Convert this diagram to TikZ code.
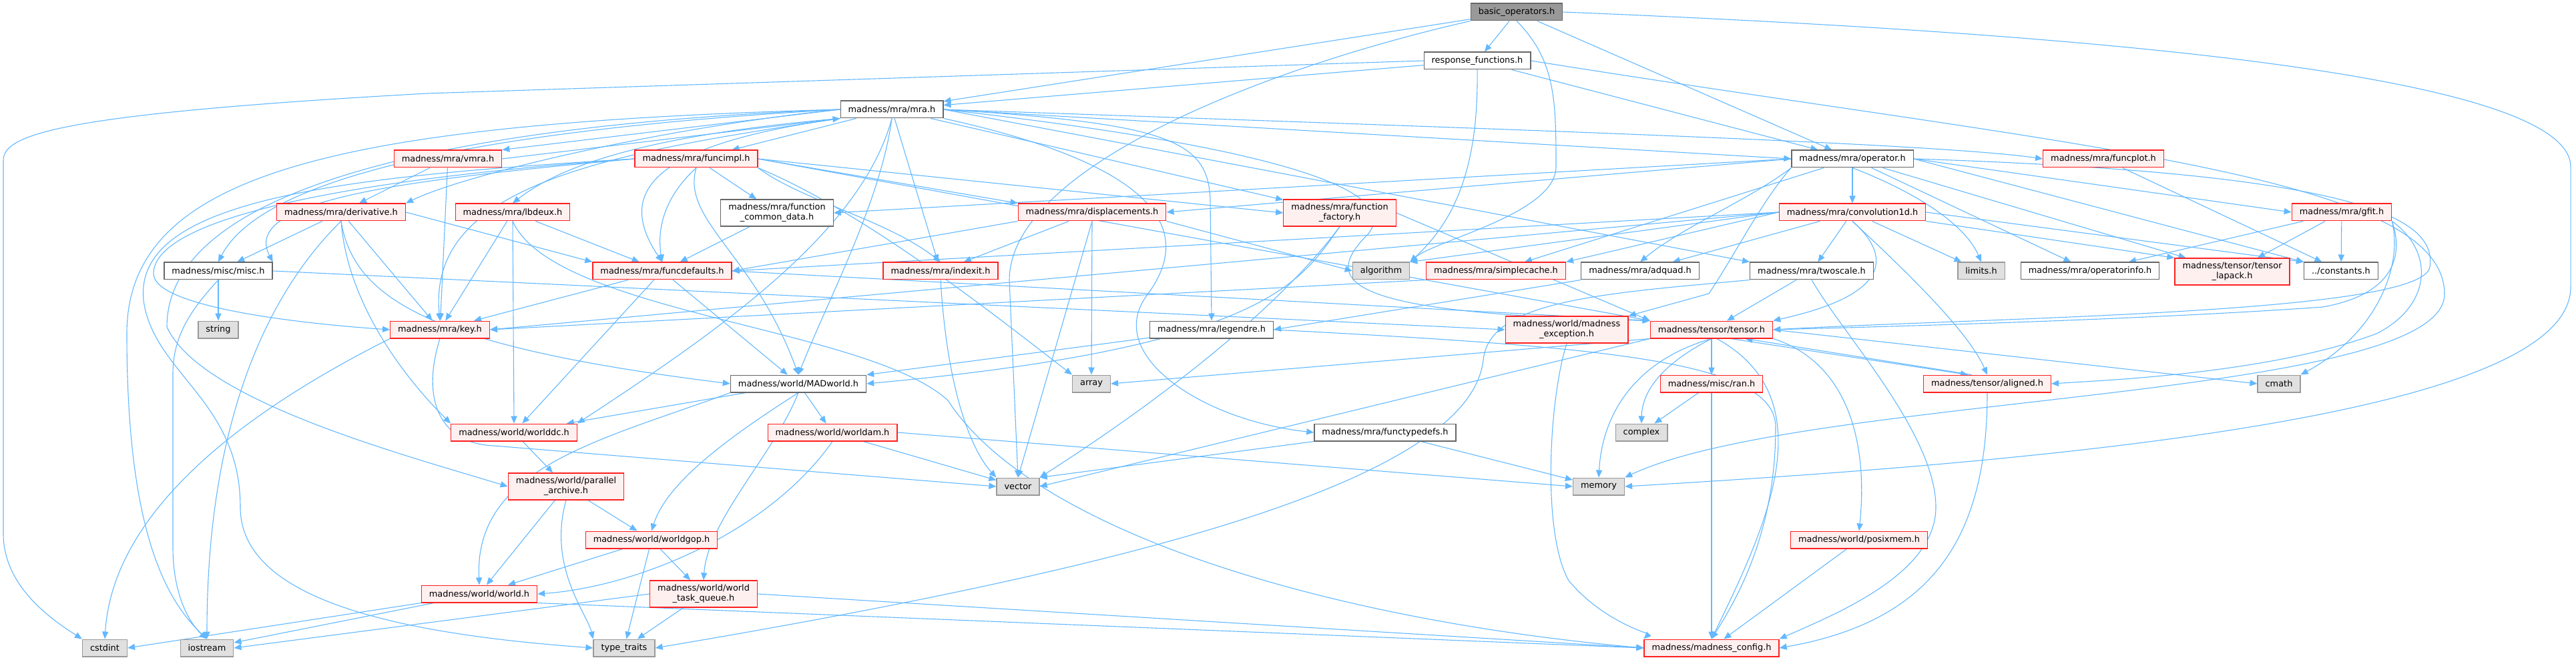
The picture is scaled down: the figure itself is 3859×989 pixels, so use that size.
\documentclass[tikz,border=0pt]{standalone}
\usepackage{fontspec}
\newfontfamily\dvs{DejaVu Sans}
\usetikzlibrary{arrows.meta}
\definecolor{edgec}{HTML}{63B8FF}
\definecolor{redb}{HTML}{FF2020}
\definecolor{redf}{HTML}{FFF0F0}
\definecolor{grayb}{HTML}{999999}
\definecolor{grayf}{HTML}{E0E0E0}
\definecolor{wb}{HTML}{666666}
\definecolor{rootf}{HTML}{999999}
\pgfdeclarelayer{bg}
\pgfsetlayers{bg,main}
\tikzset{
 nbase/.style={draw, line width=0.65pt, font=\dvs\fontsize{6.45}{7.5}\selectfont, inner xsep=5.75pt, inner ysep=1pt, minimum height=12.85pt, align=center, text=black},
 rn/.style={nbase, draw=redb, fill=redf},
 wn/.style={nbase, draw=wb, fill=white},
 gn/.style={nbase, draw=grayb, fill=grayf},
 rootn/.style={nbase, draw=wb, fill=rootf},
 two/.style={minimum height=20pt},
 ed/.style={draw=edgec, line width=0.55pt, -{Triangle[length=5.5pt,width=4.6pt]}},
}
\begin{document}
\begin{tikzpicture}[x=0.5pt,y=-0.5pt]
\useasboundingbox (0,0) rectangle (3859,989);
% row 1-3
\node[rootn] (B) at (2272,18) {basic\_operators.h};
\node[wn] (R) at (2213,91) {response\_functions.h};
\node[wn] (mra) at (1336,164) {madness/mra/mra.h};
% row 4
\node[rn] (vmra) at (671,238) {madness/mra/vmra.h};
\node[rn] (fimpl) at (1043,238) {madness/mra/funcimpl.h};
\node[wn] (op) at (2775,238) {madness/mra/operator.h};
\node[rn] (fplot) at (3151,238) {madness/mra/funcplot.h};
% row 5
\node[rn] (deriv) at (511,318) {madness/mra/derivative.h};
\node[rn] (lbd) at (768,318) {madness/mra/lbdeux.h};
\node[wn,two] (fcd) at (1164,319) {madness/mra/function\\\_common\_data.h};
\node[rn] (disp) at (1636,318) {madness/mra/displacements.h};
\node[rn,two] (ffac) at (2007,319) {madness/mra/function\\\_factory.h};
\node[rn] (conv) at (2775,318) {madness/mra/convolution1d.h};
\node[rn] (gfit) at (3508,318) {madness/mra/gfit.h};
% row 6
\node[wn] (misc) at (327,406) {madness/misc/misc.h};
\node[rn] (fdef) at (992,406) {madness/mra/funcdefaults.h};
\node[rn] (idx) at (1409,406) {madness/mra/indexit.h};
\node[gn] (alg) at (2069,406) {algorithm};
\node[rn] (scache) at (2241,406) {madness/mra/simplecache.h};
\node[wn] (adq) at (2457,406) {madness/mra/adquad.h};
\node[wn] (twos) at (2714,406) {madness/mra/twoscale.h};
\node[gn] (lim) at (2968,406) {limits.h};
\node[wn] (opinfo) at (3131,406) {madness/mra/operatorinfo.h};
\node[rn,two] (tlap) at (3344,407) {madness/tensor/tensor\\\_lapack.h};
\node[wn] (const) at (3507,406) {../constants.h};
% row 7
\node[gn] (str) at (327,494) {string};
\node[rn] (key) at (659,494) {madness/mra/key.h};
\node[wn] (leg) at (1815,494) {madness/mra/legendre.h};
\node[rn,two] (mexc) at (2347,494) {madness/world/madness\\\_exception.h};
\node[rn] (tensor) at (2564,494) {madness/tensor/tensor.h};
% row 8
\node[wn] (madw) at (1196,575) {madness/world/MADworld.h};
\node[gn] (arr) at (1635,575) {array};
\node[rn] (ran) at (2564,575) {madness/misc/ran.h};
\node[rn] (alig) at (2977,575) {madness/tensor/aligned.h};
\node[gn] (cmath) at (3414,575) {cmath};
% row 9
\node[rn] (wdc) at (770,648) {madness/world/worlddc.h};
\node[rn] (wam) at (1247,648) {madness/world/worldam.h};
\node[wn] (ftd) at (2075,648) {madness/mra/functypedefs.h};
\node[gn] (cplx) at (2459,648) {complex};
% row 10
\node[rn,two] (parc) at (848,729) {madness/world/parallel\\\_archive.h};
\node[gn] (vec) at (1525,729) {vector};
\node[gn] (mem) at (2395,729) {memory};
% row 11
\node[rn] (wgop) at (976,809) {madness/world/worldgop.h};
\node[rn] (posix) at (2785,809) {madness/world/posixmem.h};
% row 12
\node[rn] (world) at (718,890) {madness/world/world.h};
\node[rn,two] (wtq) at (1054,890) {madness/world/world\\\_task\_queue.h};
% row 13
\node[gn] (cstd) at (157,971) {cstdint};
\node[gn] (iost) at (310,971) {iostream};
\node[gn] (tt) at (935,971) {type\_traits};
\node[rn] (mcfg) at (2564,971) {madness/madness\_config.h};

\begin{pgfonlayer}{bg}
% basic_operators
\draw[ed] (B) -- (R);
\draw[ed] (B) -- (mra);
\draw[ed] (B) -- (op);
\draw[ed] (B.south) .. controls (2330,90) and (2331,150) .. (2331,250) .. controls (2331,320) and (2150,360) .. (alg.north east);
\draw[ed] (B.south west) .. controls (1900,100) and (1512,250) .. (1512,420) -- (vec.north);
\draw[ed] (B.east) .. controls (3000,45) and (3851,100) .. (3851,250) -- (3851,430) .. controls (3851,620) and (3100,690) .. (mem.east);
% response_functions
\draw[ed] (R) -- (mra);
\draw[ed] (R) -- (op);
\draw[ed] (R.south) .. controls (2215,250) and (2180,330) .. (alg.north east);
\draw[ed] (R.west) -- (640,140) .. controls (100,170) and (5,200) .. (5,240) -- (5,800) .. controls (5,880) and (80,930) .. (cstd.north west);
\draw[ed] (R.east) .. controls (3100,220) and (3660,260) .. (3662,440) .. controls (3664,600) and (2700,590) .. (mem.north east);
% mra.h
\draw[ed] (mra.west) -- (vmra.north east);
\draw[ed] (vmra.east) -- (mra.south west);
\draw[ed] (mra) -- (fimpl);
\draw[ed] (mra.east) -- (op.west);
\draw[ed] (mra.east) .. controls (2300,195) and (2900,215) .. (fplot.west);
\draw[ed] (mra.west) .. controls (1000,190) and (700,260) .. (deriv.north east);
\draw[ed] (mra.south west) .. controls (1000,200) and (850,240) .. (lbd.north);
\draw[ed] (mra) -- (ffac);
\draw[ed] (mra.west) .. controls (800,190) and (400,250) .. (misc.north);
\draw[ed] (mra.south west) .. controls (900,230) and (640,280) .. (key.north);
\draw[ed] (mra) -- (idx);
\draw[ed] (mra.east) .. controls (1750,185) and (1810,210) .. (1813,300) -- (leg.north);
\draw[ed] (mra.east) -- (twos.north west);
\draw[ed] (mra.south) .. controls (1320,300) and (1240,450) .. (madw.north);
\draw[ed] (mra.south) .. controls (1290,350) and (1070,500) .. (wdc.north east);
\draw[ed] (mra.west) .. controls (600,190) and (250,300) .. (250,490) .. controls (300,600) and (600,680) .. (parc.west);
\draw[ed] (mra.south east) .. controls (1700,240) and (1800,330) .. (1720,440) .. controls (1650,530) and (1800,630) .. (ftd.west);
\draw[ed] (mra.south west) .. controls (950,220) and (930,300) .. (fdef.north);
\draw[ed] (mra.east) .. controls (2000,230) and (2090,300) .. (2050,350) .. controls (1980,420) and (2000,470) .. (tensor.north west);
\draw[ed] (mra.west) .. controls (500,185) and (190,260) .. (190,500) .. controls (190,800) and (250,900) .. (iost.north);
% vmra
\draw[ed] (vmra) -- (deriv);
\draw[ed] (vmra) -- (key);
% funcimpl
\draw[ed] (fimpl.west) .. controls (500,265) and (200,300) .. (215,450) .. controls (230,560) and (360,600) .. (360,760) .. controls (360,900) and (600,950) .. (tt.west);
\draw[ed] (fimpl.west) .. controls (500,270) and (230,330) .. (230,410) .. controls (230,460) and (450,485) .. (key.west);
\draw[ed] (fimpl.west) .. controls (600,270) and (360,300) .. (misc.north east);
\draw[ed] (fimpl) -- (fcd);
\draw[ed] (fimpl.south) .. controls (990,300) and (985,350) .. (fdef.north);
\draw[ed] (fimpl.south east) .. controls (1200,300) and (1330,330) .. (idx.north);
\draw[ed] (fimpl.east) -- (disp.north west);
\draw[ed] (fimpl.east) -- (ffac.west);
\draw[ed] (fimpl.south) .. controls (1020,330) and (1130,380) .. (madw.north);
\draw[ed] (fimpl.south east) .. controls (1300,320) and (1500,480) .. (arr.north west);
\draw[ed] (fimpl.east) -- (tensor.north west);
% derivative
\draw[ed] (deriv) -- (misc);
\draw[ed] (deriv.east) -- (fdef.north west);
\draw[ed] (deriv) -- (key);
\draw[ed] (deriv.south) .. controls (420,420) and (310,600) .. (iost.north);
\draw[ed] (deriv.south) .. controls (520,450) and (600,560) .. (wdc.north west);
\draw[ed] (deriv.south) .. controls (530,450) and (650,520) .. (madw.west);
% lbdeux
\draw[ed] (lbd) -- (key);
\draw[ed] (lbd) -- (fdef);
\draw[ed] (lbd.south) -- (wdc.north);
\draw[ed] (lbd.south) .. controls (830,470) and (1300,490) .. (1420,600) .. controls (1550,800) and (2000,930) .. (mcfg.west);
% function_common_data, displacements, function_factory
\draw[ed] (fcd) -- (fdef);
\draw[ed] (disp.south west) -- (fdef.east);
\draw[ed] (disp) -- (idx);
\draw[ed] (disp.south) -- (vec.north);
\draw[ed] (disp.south) -- (arr.north);
\draw[ed] (disp.south east) -- (alg.west);
\draw[ed] (ffac.south) .. controls (1950,420) and (1900,520) .. (madw.east);
\draw[ed] (ffac.south) .. controls (1940,430) and (1800,560) .. (vec.north east);
\draw[ed] (ffac.east) -- (tensor.north west);
% operator
\draw[ed] (op.west) -- (fcd.east);
\draw[ed] (op.west) -- (disp.east);
\draw[ed] (op) -- (conv);
\draw[ed] (op.east) -- (gfit.west);
\draw[ed] (op) -- (scache);
\draw[ed] (op.south west) .. controls (2620,300) and (2520,340) .. (adq.north);
\draw[ed] (op.south) .. controls (2900,300) and (2950,350) .. (lim.north);
\draw[ed] (op) -- (opinfo);
\draw[ed] (op) -- (tlap);
\draw[ed] (op.east) -- (const.north west);
\draw[ed] (op.east) .. controls (3550,260) and (3650,330) .. (3640,400) .. controls (3630,470) and (3000,475) .. (tensor.east);
\draw[ed] (op.south west) .. controls (2640,300) and (2600,380) .. (2560,440) -- (mexc.north east);
% convolution1d
\draw[ed] (conv.west) -- (fdef.east);
\draw[ed] (conv.west) -- (key.east);
\draw[ed] (conv) -- (twos);
\draw[ed] (conv) -- (lim);
\draw[ed] (conv.west) -- (scache.north east);
\draw[ed] (conv) -- (adq);
\draw[ed] (conv.south) .. controls (2870,420) and (2950,500) .. (alig.north);
\draw[ed] (conv.south east) -- (tlap.north west);
\draw[ed] (conv.east) -- (const.north west);
\draw[ed] (conv.south) .. controls (2830,380) and (2840,440) .. (tensor.north east);
\draw[ed] (conv.west) -- (alg.north east);
% gfit, funcplot
\draw[ed] (gfit) -- (opinfo);
\draw[ed] (gfit) -- (tlap);
\draw[ed] (gfit) -- (const);
\draw[ed] (gfit.south east) .. controls (3600,380) and (3590,440) .. (3480,460) .. controls (3200,480) and (2800,490) .. (tensor.east);
\draw[ed] (gfit.south east) .. controls (3650,380) and (3640,460) .. (3560,500) .. controls (3400,560) and (3150,570) .. (alig.east);
\draw[ed] (gfit.south east) .. controls (3600,400) and (3560,500) .. (cmath.north east);
\draw[ed] (fplot) -- (const);
% misc, funcdefaults, indexit, simplecache, adquad, twoscale
\draw[ed] (misc) -- (str);
\draw[ed] (misc.south) .. controls (290,460) and (259,500) .. (259,560) -- (259,820) .. controls (259,900) and (290,940) .. (iost.north);
\draw[ed] (misc.east) -- (mexc.west);
\draw[ed] (fdef) -- (key);
\draw[ed] (fdef) -- (wdc);
\draw[ed] (fdef) -- (madw);
\draw[ed] (fdef.east) -- (tensor.north west);
\draw[ed] (idx.south) .. controls (1420,600) and (1460,680) .. (vec.north west);
\draw[ed] (scache.south west) -- (key.east);
\draw[ed] (adq.south west) -- (leg.east);
\draw[ed] (twos) -- (tensor);
\draw[ed] (twos.south) .. controls (2760,500) and (2900,650) .. (2900,760) .. controls (2900,860) and (2750,920) .. (mcfg.north east);
\draw[ed] (twos.south west) .. controls (2400,440) and (2230,450) .. (2222,540) .. controls (2200,720) and (1700,850) .. (tt.east);
% legendre, madness_exception, tensor
\draw[ed] (leg) -- (madw);
\draw[ed] (leg.east) .. controls (2400,520) and (2660,540) .. (2660,640) .. controls (2660,800) and (2600,900) .. (mcfg.north);
\draw[ed] (mexc.south) .. controls (2320,600) and (2310,800) .. (2350,870) .. controls (2400,930) and (2470,950) .. (mcfg.north west);
\draw[ed] (tensor) -- (ran);
\draw[ed] (tensor.south) .. controls (2500,540) and (2460,580) .. (cplx.north);
\draw[ed] (tensor.south) .. controls (2450,540) and (2400,620) .. (mem.north);
\draw[ed] (tensor.south west) -- (vec.east);
\draw[ed] (tensor.south west) -- (arr.east);
\draw[ed] (tensor.-25) -- (alig.155);
\draw[ed] (alig.150) -- (tensor.-15);
\draw[ed] (tensor.east) -- (cmath.west);
\draw[ed] (tensor.south east) .. controls (2760,540) and (2800,650) .. (posix.north);
\draw[ed] (tensor.-60) .. controls (2740,600) and (2640,800) .. (mcfg.north);
\draw[ed] (ran) -- (cplx);
\draw[ed] (ran.south) -- (mcfg.north);
\draw[ed] (alig.south) .. controls (2977,800) and (2900,930) .. (mcfg.east);
\draw[ed] (posix) -- (mcfg);
% key
\draw[ed] (key.south west) .. controls (400,600) and (170,750) .. (cstd.north);
\draw[ed] (key.south) .. controls (630,600) and (660,665) .. (740,668) -- (vec.west);
% world layer
\draw[ed] (madw) -- (wdc);
\draw[ed] (madw.south west) .. controls (900,660) and (710,700) .. (world.north);
\draw[ed] (madw.south) .. controls (1100,650) and (1000,720) .. (wgop.north);
\draw[ed] (madw.south) .. controls (1160,680) and (1060,780) .. (wtq.north);
\draw[ed] (madw) -- (wam);
\draw[ed] (wdc) -- (parc);
\draw[ed] (parc) -- (world);
\draw[ed] (parc) -- (wgop);
\draw[ed] (parc.south) .. controls (820,850) and (880,920) .. (tt.north west);
\draw[ed] (wgop) -- (world);
\draw[ed] (wgop) -- (wtq);
\draw[ed] (wgop) -- (tt);
\draw[ed] (wam.south) .. controls (1150,800) and (950,880) .. (world.east);
\draw[ed] (wam) -- (vec);
\draw[ed] (wam.east) -- (mem.west);
\draw[ed] (ftd.south west) -- (vec.north east);
\draw[ed] (ftd) -- (mem);
\draw[ed] (world.south west) -- (cstd.east);
\draw[ed] (world) -- (iost);
\draw[ed] (world.south east) -- (mcfg.west);
\draw[ed] (wtq.west) -- (iost.east);
\draw[ed] (wtq) -- (tt);
\draw[ed] (wtq.east) -- (mcfg.west);
\end{pgfonlayer}
\end{tikzpicture}
\end{document}
